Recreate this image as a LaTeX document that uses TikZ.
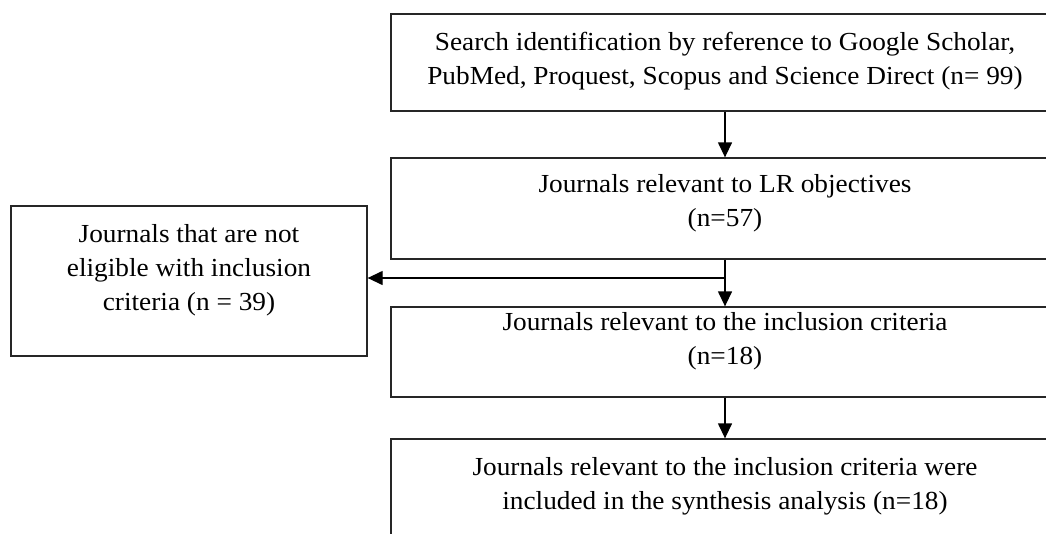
\documentclass[tikz,border=0pt]{standalone}
\usepackage{fontspec}
\setmainfont{Liberation Serif}[FakeStretch=1.05]
\usetikzlibrary{arrows.meta,calc}
\begin{document}
\begin{tikzpicture}[x=1pt,y=-1pt,
  box/.style={draw=black!85,line width=1.3pt,rectangle,inner sep=0pt},
  txt/.style={inner sep=0pt,align=center,font=\fontsize{26}{34}\selectfont},
  arr/.style={line width=1.3pt,-{Triangle[length=15pt,width=14pt]}}]
\useasboundingbox (0,0) rectangle (1046,533);
\clip (0,0) rectangle (1046,533);
\node[box,minimum width=668,minimum height=97] (b1) at (725,62.5) {};
\node[txt] (t1) at (725,61)
  {Search identification by reference to Google Scholar,\\PubMed, Proquest, Scopus and Science Direct (n= 99)};
\node[box,minimum width=668,minimum height=101] (b2) at (725,208.5) {};
\node[txt] (t2) at (725,203)
  {Journals relevant to LR objectives\\(n=57)};
\node[box,minimum width=668,minimum height=90] (b3) at (725,352) {};
\node[txt] (t3) at (725,341)
  {Journals relevant to the inclusion criteria\\(n=18)};
\node[box,minimum width=668,minimum height=200] (b4) at (725,539) {};
\node[txt] (t4) at (725,486)
  {Journals relevant to the inclusion criteria were\\included in the synthesis analysis (n=18)};
\node[box,minimum width=356,minimum height=150] (left) at (189,281) {};
\node[txt] (tl) at (189,270)
  {Journals that are not\\eligible with inclusion\\criteria (n = 39)};
\coordinate (j) at (725,278);
\draw[arr] (b1.south) -- (b2.north);
\draw[arr] (b2.south) -- (b3.north);
\draw[arr] (j) -- (j -| left.east);
\draw[arr] (b3.south) -- (b4.north);
\end{tikzpicture}
\end{document}
